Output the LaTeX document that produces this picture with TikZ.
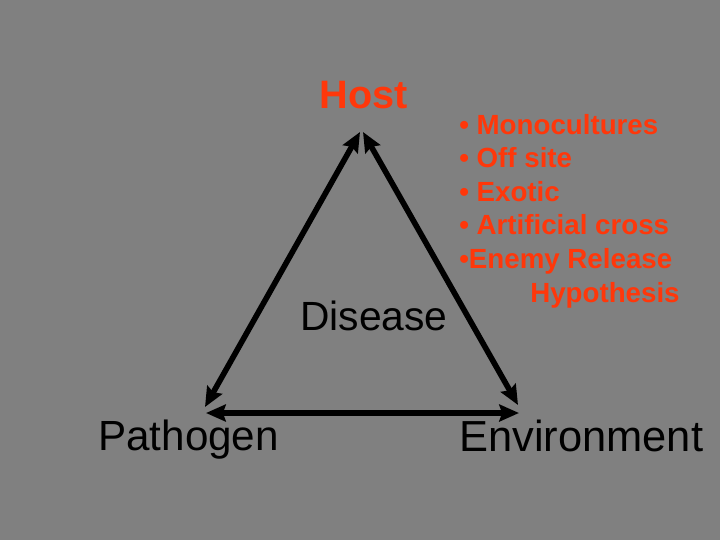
\documentclass[tikz,border=0pt]{standalone}
\usepackage{fontspec}
\setmainfont{Liberation Sans}
\usepackage{xcolor}
\usetikzlibrary{arrows.meta}

\definecolor{slidegray}{RGB}{128,128,128}
\definecolor{hostred}{RGB}{255,55,10}

\tikzset{
	edge/.style={line width=4pt, {Stealth[length=14pt, width=12pt, inset=2pt]}-{Stealth[length=14pt, width=12pt, inset=2pt]}},
	corner/.style={inner sep=0pt, anchor=base west, font=\fontsize{30}{36}\selectfont},
	factor/.style={inner sep=0pt, anchor=base west, text=hostred, font=\bfseries\fontsize{19.7}{24}\selectfont}
}

\begin{document}
\begin{tikzpicture}[x=0.025cm, y=-0.025cm]
					\fill[slidegray] (0,0) rectangle (720,540);
					\useasboundingbox (0,0) rectangle (720,540);

					\begin{scope}
						\node[corner, anchor=base, text=hostred, font=\bfseries\fontsize{28.2}{34}\selectfont] (host) at (364,108) {Host};
						\node[corner] (pathogen) at (98,450) {Pathogen};
						\node[corner, font=\fontsize{30.9}{36}\selectfont] (environment) at (459,451) {Environment};
						\node[corner, font=\fontsize{29}{35}\selectfont] (disease) at (300,330) {Disease};
					\end{scope}

					\begin{scope}
						\coordinate (hostL) at (360,132);
						\coordinate (hostR) at (363,132);
						\coordinate (pathTop) at (205,407);
						\coordinate (pathBot) at (206,413);
						\coordinate (envTop) at (518,405);
						\coordinate (envBot) at (519,413);

						\draw[edge] (pathTop) -- (hostL);
						\draw[edge] (hostR) -- (envTop);
						\draw[edge] (pathBot) -- (envBot);
					\end{scope}

					\begin{scope}
						\foreach \txt/\y [count=\i] in {{• Monocultures}/134, {• Off site}/167.6, {• Exotic}/201.2, {• Artificial cross}/234.8, {•Enemy Release}/268.4}
						{
							\node[factor] (factor\i) at (459,\y) {\txt};
						}
						\node[factor] (factor6) at (530,302) {Hypothesis};
					\end{scope}
				\end{tikzpicture}
\end{document}
